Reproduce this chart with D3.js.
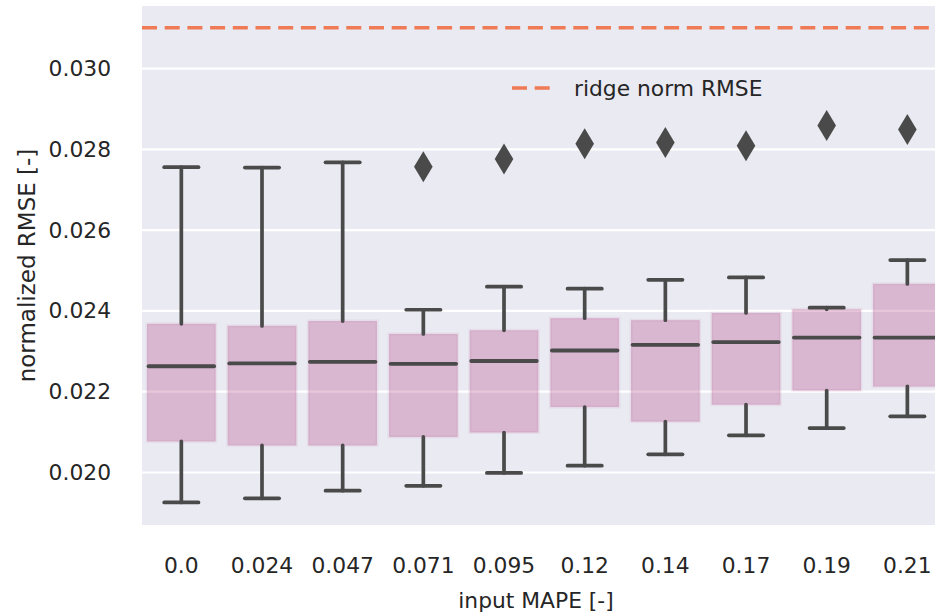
<!DOCTYPE html>
<html>
<head>
<meta charset="utf-8">
<script src="https://cdn.jsdelivr.net/npm/d3@7/dist/d3.min.js"></script>
<style>
  html, body { margin: 0; padding: 0; background: #fff; }
  svg { display: block; }
  text { font-family: "DejaVu Sans", sans-serif; fill: #262626; }
</style>
</head>
<body>
<svg id="chart" width="935" height="614"></svg>
<script>
// ---- data ----
const categories = ["0.0", "0.024", "0.047", "0.071", "0.095", "0.12", "0.14", "0.17", "0.19", "0.21"];
const whiskerLow  = [0.01926, 0.01936, 0.01955, 0.01967, 0.01999, 0.02017, 0.02045, 0.02092, 0.02110, 0.02139];
const q1          = [0.02077, 0.02067, 0.02067, 0.02088, 0.02099, 0.02162, 0.02126, 0.02168, 0.02203, 0.02213];
const median      = [0.02263, 0.02270, 0.02274, 0.02269, 0.02276, 0.02302, 0.02316, 0.02323, 0.02334, 0.02334];
const q3          = [0.02368, 0.02363, 0.02375, 0.02343, 0.02352, 0.02382, 0.02377, 0.02395, 0.02404, 0.02467];
const whiskerHigh = [0.02756, 0.02755, 0.02768, 0.02403, 0.02460, 0.02455, 0.02477, 0.02483, 0.02408, 0.02526];
const outliers    = [null, null, null, 0.02757, 0.02776, 0.02814, 0.02817, 0.02809, 0.02859, 0.02849];
const ridgeRMSE = 0.03101;
const yTicks = [0.020, 0.022, 0.024, 0.026, 0.028, 0.030];
const yDomain = [0.0187, 0.03155];
const xLabel = "input MAPE [-]";
const yLabel = "normalized RMSE [-]";
const legendLabel = "ridge norm RMSE";

// ---- layout ----
const W = 935, H = 614;
const plot = { left: 142, top: 6, right: 935, bottom: 525 };
const svg = d3.select("#chart");

const x = d3.scaleBand().domain(categories).range([141, 947.7]).padding(0);
const y = d3.scaleLinear().domain(yDomain).range([plot.bottom, plot.top]);

const ink = "#4a4a4a";
const boxColor = "rgb(176,58,124)";
const ridgeColor = "#ee7b55";
const fs = 21.8;

svg.append("rect").attr("x", 0).attr("y", 0).attr("width", W).attr("height", H).attr("fill", "#fff");
svg.append("rect")
  .attr("x", plot.left).attr("y", plot.top)
  .attr("width", plot.right - plot.left).attr("height", plot.bottom - plot.top)
  .attr("fill", "#eaeaf2");

// grid
svg.append("g").selectAll("line").data(yTicks).join("line")
  .attr("x1", plot.left).attr("x2", plot.right)
  .attr("y1", d => y(d)).attr("y2", d => y(d))
  .attr("stroke", "#fff").attr("stroke-width", 2.2);

// y tick labels
svg.append("g").selectAll("text").data(yTicks).join("text")
  .attr("x", 111).attr("y", d => y(d))
  .attr("text-anchor", "end").attr("dominant-baseline", "central")
  .attr("font-size", fs)
  .text(d => d3.format(".3f")(d));

// x tick labels
svg.append("g").selectAll("text").data(categories).join("text")
  .attr("x", d => x(d) + x.bandwidth() / 2).attr("y", 573)
  .attr("text-anchor", "middle")
  .attr("font-size", fs)
  .text(d => d);

// axis titles
svg.append("text")
  .attr("x", 536).attr("y", 608)
  .attr("text-anchor", "middle").attr("font-size", fs)
  .text(xLabel);
svg.append("text")
  .attr("transform", `translate(27,${(plot.top + plot.bottom) / 2}) rotate(-90)`)
  .attr("text-anchor", "middle").attr("dominant-baseline", "central")
  .attr("font-size", 23)
  .text(yLabel);

// ridge line
svg.append("line")
  .attr("x1", plot.left).attr("x2", plot.right)
  .attr("y1", y(ridgeRMSE)).attr("y2", y(ridgeRMSE))
  .attr("stroke", ridgeColor).attr("stroke-width", 3.6)
  .attr("stroke-dasharray", "15,7.7");

// boxes
const rows = categories.map((c, i) => ({
  c, lo: whiskerLow[i], q1: q1[i], med: median[i], q3: q3[i], hi: whiskerHigh[i], out: outliers[i]
}));
const bw = x.bandwidth() * 0.85;
const cx = d => x(d.c) + x.bandwidth() / 2;
const g = svg.append("g");
const grp = g.selectAll("g").data(rows).join("g");

grp.append("rect")
  .attr("x", d => cx(d) - bw / 2).attr("width", bw)
  .attr("y", d => y(d.q3)).attr("height", d => y(d.q1) - y(d.q3))
  .attr("fill", boxColor).attr("fill-opacity", 0.29)
  .attr("stroke", boxColor).attr("stroke-opacity", 0.07).attr("stroke-width", 3);

const lineAttrs = sel => sel.attr("stroke", ink).attr("stroke-width", 3.7).attr("stroke-linecap", "round");

// whiskers
grp.append("line").call(lineAttrs)
  .attr("x1", cx).attr("x2", cx)
  .attr("y1", d => y(d.hi)).attr("y2", d => y(d.q3));
grp.append("line").call(lineAttrs)
  .attr("x1", cx).attr("x2", cx)
  .attr("y1", d => y(d.lo)).attr("y2", d => y(d.q1));
// caps
const capW = bw * 0.5;
grp.append("line").call(lineAttrs)
  .attr("x1", d => cx(d) - capW / 2).attr("x2", d => cx(d) + capW / 2)
  .attr("y1", d => y(d.hi)).attr("y2", d => y(d.hi));
grp.append("line").call(lineAttrs)
  .attr("x1", d => cx(d) - capW / 2).attr("x2", d => cx(d) + capW / 2)
  .attr("y1", d => y(d.lo)).attr("y2", d => y(d.lo));
// medians
grp.append("line").call(lineAttrs)
  .attr("stroke-width", 3.8)
  .attr("x1", d => cx(d) - bw / 2 + 1.5).attr("x2", d => cx(d) + bw / 2 - 1.5)
  .attr("y1", d => y(d.med)).attr("y2", d => y(d.med));

// outliers (thin diamonds)
const dHalfW = 9.3, dHalfH = 15.5;
grp.filter(d => d.out != null).append("path")
  .attr("d", `M0,${-dHalfH}L${dHalfW},0L0,${dHalfH}L${-dHalfW},0Z`)
  .attr("transform", d => `translate(${cx(d)},${y(d.out)})`)
  .attr("fill", ink);

// legend
svg.append("line")
  .attr("x1", 512).attr("x2", 551).attr("y1", 88).attr("y2", 88)
  .attr("stroke", ridgeColor).attr("stroke-width", 3.6)
  .attr("stroke-dasharray", "15,7.7");
svg.append("text")
  .attr("x", 574).attr("y", 88)
  .attr("dominant-baseline", "central").attr("font-size", fs)
  .text(legendLabel);
</script>
</body>
</html>
